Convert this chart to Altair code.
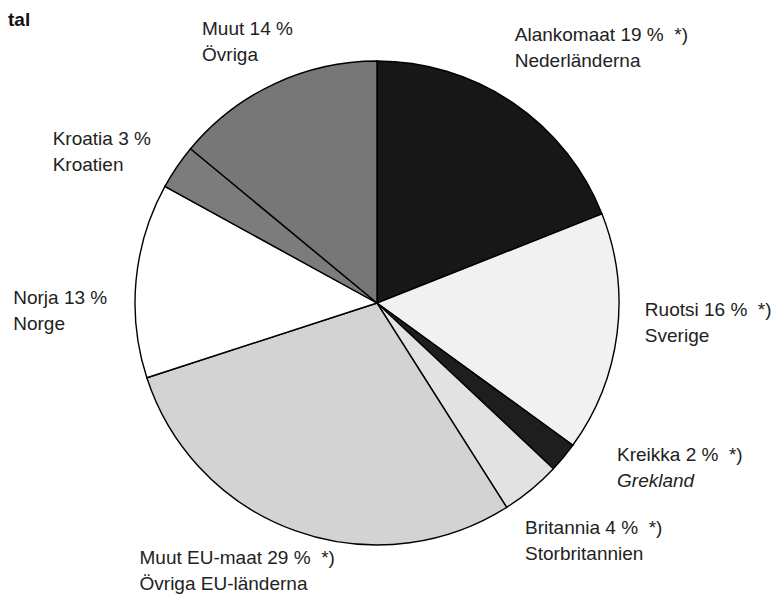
import altair as alt
import pandas as pd

# ---- data -------------------------------------------------------------
categories = ["Alankomaat", "Ruotsi", "Kreikka", "Britannia",
              "Muut EU-maat", "Norja", "Kroatia", "Muut"]
shares = [19, 16, 2, 4, 29, 13, 3, 14]
label_fi = ["Alankomaat 19 %\u00a0\u00a0*)", "Ruotsi 16 %\u00a0\u00a0*)",
            "Kreikka 2 %\u00a0\u00a0*)", "Britannia 4 %\u00a0\u00a0*)",
            "Muut EU-maat 29 %\u00a0\u00a0*)", "Norja 13 %", "Kroatia 3 %",
            "Muut 14 %"]
label_sv = ["Nederländerna", "Sverige", "Grekland", "Storbritannien",
            "Övriga EU-länderna", "Norge", "Kroatien", "Övriga"]
italic_sv = [False, False, True, False, False, False, False, False]

# ---- styling / layout -------------------------------------------------
colors = ["#171717", "#f1f1f1", "#1e1e1e", "#e2e2e2",
          "#d3d3d3", "#ffffff", "#7c7c7c", "#777777"]
# label offsets (dx, dy) relative to the slice mid-angle at radius 270
label_offsets = [(-14, -39), (0, -21), (32, -14), (-24, 23),
                 (-146, 7), (-95, 26), (-101, -6), (-60, -24)]
LINE_GAP = 26
FONT = "Liberation Sans"
FS = 19

df = pd.DataFrame({
    "order": list(range(len(categories))),
    "category": categories,
    "share": shares,
    "fi": label_fi,
    "sv": label_sv,
})

base = alt.Chart(df)

pie = base.mark_arc(outerRadius=242, stroke="black", strokeWidth=1.4).encode(
    theta=alt.Theta("share:Q", stack=True),
    order=alt.Order("order:Q"),
    color=alt.Color("category:N",
                    scale=alt.Scale(domain=categories, range=colors),
                    legend=None),
)

lab_base = base.transform_window(
    cum="sum(share)", sort=[alt.SortField("order")]
).transform_calculate(mid="datum.cum - datum.share / 2")

layers = [pie]
theta_enc = alt.Theta("mid:Q", stack=None, scale=alt.Scale(domain=[0, 100]))
for i, cat in enumerate(categories):
    dx, dy = label_offsets[i]
    sub = lab_base.transform_filter(alt.datum.order == i)
    layers.append(sub.mark_text(
        align="left", baseline="alphabetic", radius=270, dx=dx, dy=dy,
        font=FONT, fontSize=FS, color="#222222",
    ).encode(theta=theta_enc, text="fi:N"))
    layers.append(sub.mark_text(
        align="left", baseline="alphabetic", radius=270, dx=dx,
        dy=dy + LINE_GAP, font=FONT, fontSize=FS, color="#222222",
        fontStyle="italic" if italic_sv[i] else "normal",
    ).encode(theta=theta_enc, text="sv:N"))

title_mark = alt.Chart(pd.DataFrame({"t": ["tal"]})).mark_text(
    align="left", baseline="alphabetic", font=FONT, fontSize=19,
    fontWeight="bold", color="#111111",
).encode(x=alt.value(0), y=alt.value(13), text="t:N")
layers.append(title_mark)

chart = alt.layer(*layers).properties(
    width=738, height=580,
    padding={"left": 0, "top": 5, "right": 29, "bottom": 3},
    autosize="none",
).configure(background="white").configure_view(strokeWidth=0, stroke="transparent")

chart.save("out.html", embed_options={"renderer": "svg", "actions": False})
